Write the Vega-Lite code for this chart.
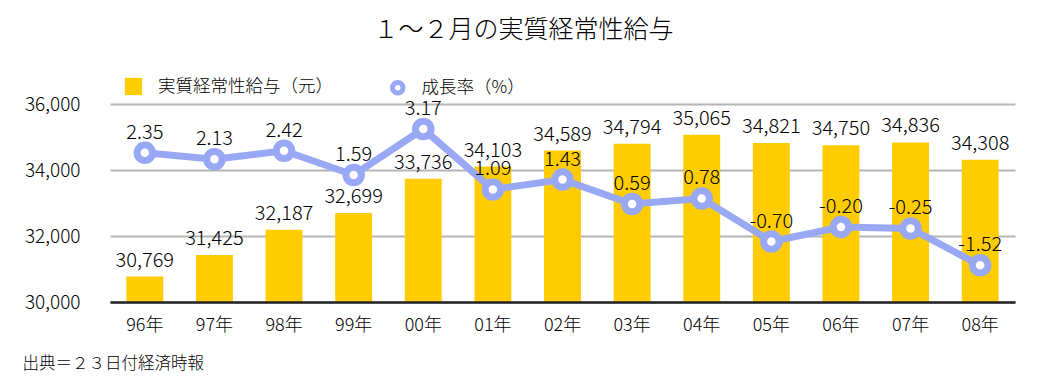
{
  "$schema": "https://vega.github.io/schema/vega-lite/v6.json",
  "width": 905,
  "height": 198,
  "autosize": {"type": "none"},
  "padding": {"left": 110, "top": 104, "right": 35, "bottom": 77},
  "background": "white",
  "config": {"font": "Noto Sans CJK JP", "view": {"stroke": null},
    "locale": {"number": {"decimal": ".", "thousands": ",", "grouping": [3], "currency": ["", ""], "minus": "-"}}},
  "title": {"text": "１～２月の実質経常性給与", "font": "Noto Sans CJK JP", "fontSize": 25, "fontWeight": 300, "color": "#000000", "anchor": "middle", "frame": "bounds", "offset": 34, "dx": 5},
  "data": {"values": [
    {"year": "96年", "salary": 30769, "rate": 2.35},
    {"year": "97年", "salary": 31425, "rate": 2.13},
    {"year": "98年", "salary": 32187, "rate": 2.42},
    {"year": "99年", "salary": 32699, "rate": 1.59},
    {"year": "00年", "salary": 33736, "rate": 3.17},
    {"year": "01年", "salary": 34103, "rate": 1.09},
    {"year": "02年", "salary": 34589, "rate": 1.43},
    {"year": "03年", "salary": 34794, "rate": 0.59},
    {"year": "04年", "salary": 35065, "rate": 0.78},
    {"year": "05年", "salary": 34821, "rate": -0.70},
    {"year": "06年", "salary": 34750, "rate": -0.20},
    {"year": "07年", "salary": 34836, "rate": -0.25},
    {"year": "08年", "salary": 34308, "rate": -1.52}
  ]},
  "encoding": {
    "x": {"field": "year", "type": "ordinal", "sort": null,
      "scale": {"paddingInner": 0.47, "paddingOuter": 0.235},
      "axis": {"title": "出典＝２３日付経済時報", "titleAnchor": "start", "titleAlign": "left", "titleX": -88, "titleY": 66, "titleBaseline": "alphabetic", "titleFontSize": 16.5, "titleFontWeight": 300, "titleColor": "#000000",
        "ticks": false, "domainColor": "#222222", "domainWidth": 2.5, "labelAngle": 0, "labelFontSize": 18, "labelFontWeight": 300, "labelPadding": 14, "labelColor": "#000000", "zindex": 1}}
  },
  "layer": [
    {
      "layer": [
        {"mark": {"type": "bar", "clip": true},
          "encoding": {
            "y": {"field": "salary", "type": "quantitative", "scale": {"domain": [30000, 36000], "zero": false, "nice": false},
              "axis": {"values": [30000, 32000, 34000, 36000], "format": ",d", "domain": false, "ticks": false, "labelFontSize": 19, "labelFontWeight": 300, "labelPadding": 30, "labelColor": "#000000", "gridColor": "#b5b5b5", "gridWidth": 2, "title": null}},
            "fill": {"datum": "実質経常性給与（元）", "type": "nominal", "scale": {"range": ["#FFCC00"]},
              "legend": {"title": null, "orient": "none", "legendX": 14, "legendY": -27, "symbolType": "square", "symbolSize": 300, "labelFontSize": 17.5, "labelFontWeight": 300, "labelColor": "#000000", "labelOffset": 15, "labelLimit": 400}}
          }},
        {"mark": {"type": "text", "dy": -10, "baseline": "alphabetic", "fontSize": 20, "fontWeight": 300, "color": "#000000"},
          "encoding": {"y": {"field": "salary", "type": "quantitative"}, "text": {"field": "salary", "type": "quantitative", "format": ",d"}}}
      ]
    },
    {
      "layer": [
        {"mark": {"type": "line", "stroke": "#99A8F5", "strokeWidth": 7},
          "encoding": {"y": {"field": "rate", "type": "quantitative", "scale": {"domain": [-2.78, 4.03], "zero": false, "nice": false}, "axis": null}}},
        {"mark": {"type": "point", "filled": true, "fill": "#ffffff", "strokeWidth": 7, "size": 240, "opacity": 1},
          "encoding": {"y": {"field": "rate", "type": "quantitative"},
            "stroke": {"datum": "成長率（%）", "type": "nominal", "scale": {"range": ["#99A8F5"]},
              "legend": {"title": null, "orient": "none", "legendX": 279, "legendY": -25, "symbolType": "circle", "symbolSize": 110, "symbolStrokeWidth": 5, "symbolFillColor": "#ffffff", "labelFontSize": 17.5, "labelFontWeight": 300, "labelColor": "#000000", "labelOffset": 15, "labelLimit": 400}}}},
        {"mark": {"type": "text", "dy": -14, "baseline": "alphabetic", "fontSize": 20, "fontWeight": 300, "color": "#000000"},
          "encoding": {"y": {"field": "rate", "type": "quantitative"}, "text": {"field": "rate", "type": "quantitative", "format": ".2f"}}}
      ]
    }
  ],
  "resolve": {"scale": {"y": "independent"}}
}
